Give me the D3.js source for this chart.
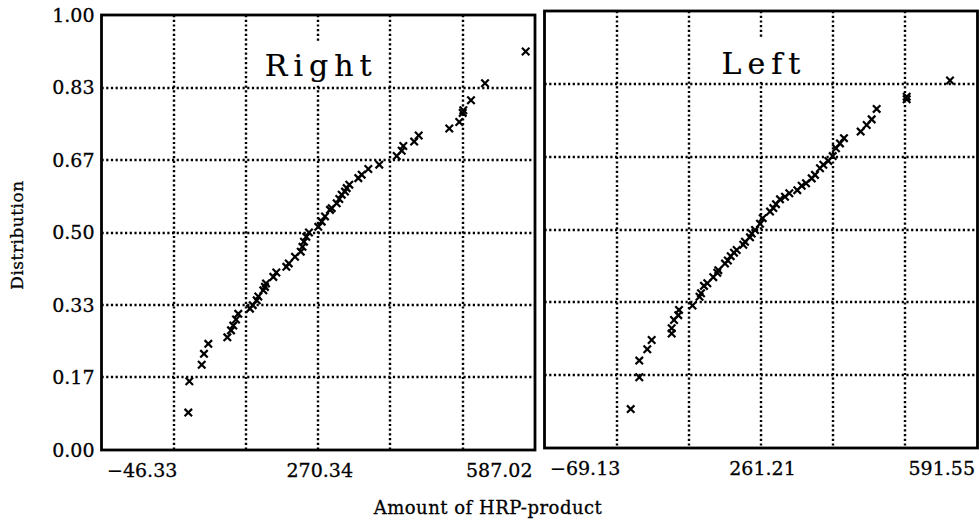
<!DOCTYPE html>
<html>
<head>
<meta charset="utf-8">
<script src="https://cdn.jsdelivr.net/npm/d3@7"></script>
<style>
  body { margin: 0; background: #fff; }
  text { font-family: "DejaVu Serif", serif; fill: #000; stroke: #000; stroke-width: 0.3px; }
</style>
</head>
<body>
<div id="chart"></div>
<script>
// "Right" panel (drawn on the left)
const rightAmount = [80.5, 82.0, 100.1, 103.4, 109.7, 137.5, 142.9, 146.2, 150.2, 153.5,
    170.6, 174.6, 180.4, 182.8, 190.1, 192.5, 194.0, 204.7, 209.1, 223.7,
    227.3, 236.4, 244.8, 247.3, 249.5, 252.9, 256.8, 270.4, 275.4, 280.2,
    287.5, 290.0, 297.3, 301.1, 304.6, 309.4, 311.9, 315.7, 328.9, 333.8,
    343.5, 359.5, 385.0, 392.3, 394.6, 410.5, 417.1, 461.8, 476.4, 481.4,
    482.3, 493.5, 514.0, 573.4];
const rightDist = [0.086, 0.158, 0.196, 0.221, 0.244, 0.259, 0.275, 0.286, 0.300, 0.313,
    0.325, 0.333, 0.344, 0.353, 0.367, 0.375, 0.383, 0.398, 0.408, 0.421,
    0.429, 0.444, 0.456, 0.467, 0.479, 0.490, 0.500, 0.513, 0.525, 0.537,
    0.552, 0.556, 0.567, 0.577, 0.587, 0.594, 0.602, 0.610, 0.625, 0.633,
    0.646, 0.656, 0.676, 0.688, 0.699, 0.709, 0.723, 0.739, 0.754, 0.775,
    0.781, 0.804, 0.843, 0.916];

// "Left" panel (drawn on the right)
const leftAmount = [62.4, 75.5, 75.5, 87.7, 94.4, 124.9, 124.9, 128.5, 135.0, 136.1,
    156.7, 167.4, 169.7, 174.2, 179.3, 188.4, 194.5, 196.1, 206.3, 210.6,
    215.0, 220.0, 224.1, 234.2, 236.8, 244.4, 247.0, 252.1, 259.7, 263.8,
    275.0, 280.0, 284.1, 290.2, 297.8, 304.4, 316.6, 323.3, 329.9, 338.6,
    343.6, 351.2, 356.3, 363.9, 370.6, 375.6, 381.7, 387.8, 413.3, 422.5,
    430.1, 437.7, 483.5, 483.5, 549.6];
const leftDist = [0.089, 0.162, 0.200, 0.226, 0.247, 0.262, 0.274, 0.293, 0.304, 0.316,
    0.326, 0.346, 0.354, 0.371, 0.377, 0.391, 0.401, 0.407, 0.422, 0.429,
    0.439, 0.447, 0.453, 0.465, 0.472, 0.482, 0.491, 0.499, 0.513, 0.526,
    0.541, 0.549, 0.558, 0.569, 0.575, 0.583, 0.590, 0.600, 0.606, 0.617,
    0.625, 0.640, 0.648, 0.657, 0.668, 0.686, 0.697, 0.709, 0.724, 0.739,
    0.752, 0.776, 0.798, 0.804, 0.841];

const rightGrid = [-46.33, 59.23, 164.78, 270.34, 375.90, 481.46, 587.02];
const rightTickLabels = ["\u221246.33", "270.34", "587.02"];
const leftGrid = [-69.13, 40.98, 151.09, 261.21, 371.32, 481.44, 591.55];
const leftTickLabels = ["\u221269.13", "261.21", "591.55"];

const yGrid = [0, 0.1667, 0.3333, 0.5, 0.6667, 0.8333, 1];
const yTickLabels = ["0.00", "0.17", "0.33", "0.50", "0.67", "0.83", "1.00"];

const width = 979;
const height = 522;

const svg = d3.select("#chart")
    .append("svg")
    .attr("width", width)
    .attr("height", height);

const panels = [
    { title: "Right", amount: rightAmount, dist: rightDist, grid: rightGrid, labels: rightTickLabels,
      left: 101.5, right: 535, top: 15, bottom: 450, titleY: 76 },
    { title: "Left", amount: leftAmount, dist: leftDist, grid: leftGrid, labels: leftTickLabels,
      left: 544.5, right: 977.5, top: 11, bottom: 448, titleY: 74 }
];

panels.forEach((p, idx) => {
    const xScale = d3.scaleLinear()
        .domain([p.grid[0], p.grid[p.grid.length - 1]])
        .range([p.left, p.right]);
    const yScale = d3.scaleLinear()
        .domain([0, 1])
        .range([p.bottom, p.top]);

    const g = svg.append("g");

    // dotted grid
    g.selectAll(".vgrid")
        .data(p.grid.slice(1, -1))
        .enter()
        .append("line")
        .attr("x1", d => Math.round(xScale(d)))
        .attr("x2", d => Math.round(xScale(d)))
        .attr("y1", p.top)
        .attr("y2", p.bottom)
        .attr("stroke", "#000")
        .attr("stroke-width", 2.4)
        .attr("stroke-dasharray", "2.2,2.5");

    g.selectAll(".hgrid")
        .data(yGrid.slice(1, -1))
        .enter()
        .append("line")
        .attr("x1", p.left)
        .attr("x2", p.right)
        .attr("y1", d => Math.round(yScale(d)))
        .attr("y2", d => Math.round(yScale(d)))
        .attr("stroke", "#000")
        .attr("stroke-width", 2.4)
        .attr("stroke-dasharray", "2.2,2.5");

    // title with a white patch behind it
    const cx = xScale(p.grid[3]);
    const title = g.append("text")
        .attr("x", cx)
        .attr("dx", 3)
        .attr("y", p.titleY)
        .attr("text-anchor", "middle")
        .attr("font-size", 30)
        .attr("letter-spacing", "6px")
        .style("stroke-width", "0.2px")
        .text(p.title);
    const bb = title.node().getBBox();
    g.insert("rect", "text")
        .attr("x", bb.x - 4)
        .attr("y", yScale(0.8333) - 46)
        .attr("width", bb.width + 8)
        .attr("height", 44)
        .attr("fill", "#fff");

    // markers
    g.selectAll(".pt")
        .data(p.amount.map((a, i) => [a, p.dist[i]]))
        .enter()
        .append("path")
        .attr("d", d3.symbol(d3.symbolTimes).size(38))
        .attr("transform", d => "translate(" + xScale(d[0]) + "," + yScale(d[1]) + ")")
        .attr("fill", "none")
        .attr("stroke", "#000")
        .attr("stroke-width", 2.2);

    // frame
    g.append("rect")
        .attr("x", p.left)
        .attr("y", p.top)
        .attr("width", p.right - p.left)
        .attr("height", p.bottom - p.top)
        .attr("fill", "none")
        .attr("stroke", "#000")
        .attr("stroke-width", 2.8);

    // x axis labels
    const labelVals = [p.grid[0], p.grid[3], p.grid[6]];
    const xAxis = d3.axisBottom(xScale)
        .tickValues(labelVals)
        .tickFormat((d, i) => p.labels[i])
        .tickSize(0)
        .tickPadding(14);
    const ax = svg.append("g")
        .attr("transform", "translate(0," + p.bottom + ")")
        .call(xAxis);
    ax.select(".domain").remove();
    ax.selectAll("text")
        .attr("font-family", "DejaVu Serif")
        .attr("font-size", 19)
        .attr("text-anchor", (d, i) => i === 0 ? "start" : (i === 2 ? "end" : "middle"))
        .attr("dx", (d, i) => i === 0 ? 5 : (i === 2 ? -3 : 1));

    if (idx === 0) {
        const yAxis = d3.axisLeft(yScale)
            .tickValues(yGrid)
            .tickFormat((d, i) => yTickLabels[i])
            .tickSize(0)
            .tickPadding(7);
        const ay = svg.append("g")
            .attr("transform", "translate(" + p.left + ",0)")
            .call(yAxis);
        ay.select(".domain").remove();
        ay.selectAll("text")
            .attr("font-family", "DejaVu Serif")
            .attr("font-size", 19);
    }
});

svg.append("text")
    .attr("transform", "translate(23,235) rotate(-90)")
    .attr("text-anchor", "middle")
    .attr("font-size", 17)
    .attr("letter-spacing", "0.5px")
    .text("Distribution");

svg.append("text")
    .attr("x", 488)
    .attr("y", 514)
    .attr("text-anchor", "middle")
    .attr("font-size", 18)
    .attr("letter-spacing", "0.5px")
    .text("Amount of HRP-product");
</script>
</body>
</html>
